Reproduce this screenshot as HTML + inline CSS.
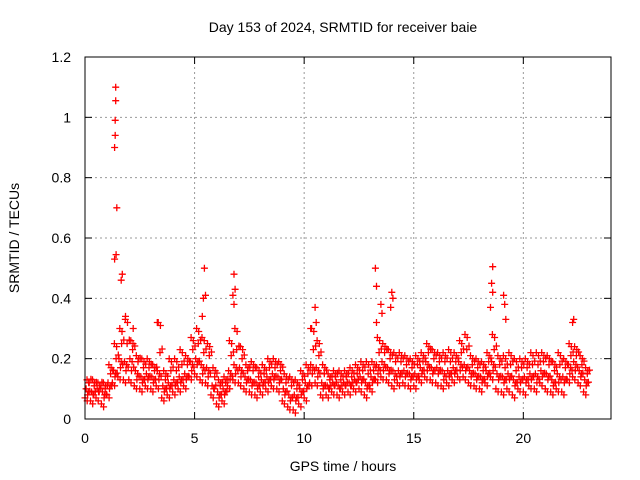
<!DOCTYPE html>
<html><head><meta charset="utf-8"><style>
body{margin:0;background:#fff}
svg{display:block;font-family:"Liberation Sans",sans-serif}
</style></head><body>
<svg id="chart" width="640" height="480">
<rect width="640" height="480" fill="#fff"/>
<text x="343" y="32" text-anchor="middle" font-size="14">Day 153 of 2024, SRMTID for receiver baie</text>
<text x="343" y="471" text-anchor="middle" font-size="14">GPS time / hours</text>
<text transform="translate(19,238) rotate(-90)" text-anchor="middle" font-size="14">SRMTID / TECUs</text>
<g id="grid"></g><g id="ticks"></g><g id="pts"></g>
<rect x="85" y="57" width="526" height="362" fill="none" stroke="#000"/>
</svg>
<script>
const xTicks=[0,5,10,15,20];
const yTicks=[0,0.2,0.4,0.6,0.8,1,1.2];
const yTickLabels=["0","0.2","0.4","0.6","0.8","1","1.2"];
const binStart=0, binStep=0.25;
const lowVals=[.07,.06,.07,.05,.08,.12,.14,.13,.13,.11,.10,.11,.10,.11,.07,.08,.09,.10,.11,.14,.15,.13,.12,.08,.05,.06,.11,.13,.12,.10,.09,.08,.09,.10,.11,.10,.06,.04,.03,.05,.07,.12,.12,.08,.08,.09,.08,.09,.09,.10,.10,.08,.10,.13,.14,.13,.11,.12,.12,.11,.11,.13,.14,.13,.12,.11,.12,.13,.14,.14,.12,.11,.10,.12,.14,.10,.09,.10,.08,.10,.09,.11,.10,.12,.10,.09,.10,.09,.13,.14,.12,.09];
const q1Vals=[.08,.08,.09,.07,.10,.14,.17,.16,.16,.13,.12,.13,.12,.13,.09,.10,.11,.12,.13,.16,.18,.15,.14,.10,.07,.08,.13,.15,.14,.12,.11,.10,.11,.12,.13,.12,.08,.06,.06,.08,.10,.15,.14,.10,.10,.11,.10,.11,.11,.12,.12,.10,.12,.15,.16,.15,.13,.14,.14,.13,.13,.15,.16,.15,.15,.13,.14,.15,.16,.16,.14,.13,.12,.14,.16,.13,.12,.13,.11,.12,.12,.13,.12,.14,.13,.11,.12,.12,.15,.16,.14,.11];
const midVals=[.10,.09,.10,.09,.12,.16,.20,.19,.20,.16,.14,.15,.14,.16,.11,.12,.13,.14,.15,.19,.20,.18,.17,.11,.09,.10,.16,.18,.17,.14,.13,.12,.13,.14,.15,.14,.10,.08,.08,.10,.12,.18,.17,.12,.11,.12,.11,.12,.12,.13,.14,.12,.14,.18,.19,.17,.16,.16,.16,.15,.15,.17,.19,.17,.17,.16,.16,.17,.19,.18,.16,.15,.14,.16,.19,.15,.14,.15,.13,.14,.14,.15,.15,.16,.15,.13,.15,.14,.18,.19,.16,.13];
const q3Vals=[.12,.11,.11,.10,.15,.20,.25,.25,.23,.19,.17,.17,.16,.22,.13,.16,.16,.18,.18,.23,.25,.22,.21,.14,.11,.12,.21,.23,.20,.16,.16,.14,.15,.17,.17,.16,.12,.11,.10,.13,.15,.23,.21,.15,.13,.14,.13,.14,.14,.15,.16,.15,.16,.22,.22,.20,.19,.19,.18,.17,.18,.19,.22,.20,.19,.19,.19,.19,.22,.23,.18,.17,.16,.19,.23,.18,.17,.18,.16,.17,.17,.18,.18,.19,.18,.16,.18,.17,.21,.21,.18,.15];
const highVals=[.13,.13,.12,.12,.18,.25,.30,.33,.26,.21,.20,.20,.18,.32,.16,.20,.20,.23,.21,.27,.30,.27,.25,.17,.13,.14,.26,.30,.24,.18,.19,.17,.18,.20,.20,.19,.15,.14,.13,.16,.18,.30,.26,.18,.15,.16,.16,.16,.17,.18,.19,.19,.19,.27,.25,.23,.22,.22,.21,.20,.21,.22,.25,.23,.22,.22,.23,.22,.26,.28,.21,.20,.19,.22,.28,.21,.21,.22,.20,.20,.20,.22,.22,.22,.21,.19,.22,.20,.25,.24,.21,.17];
const spikeTimes=[1.4,1.4,1.38,1.38,1.35,1.45,1.35,1.42,1.7,1.65,5.45,5.5,5.4,5.35,6.8,6.85,6.75,6.8,10.5,10.55,10.3,13.25,13.3,13.5,13.55,13.3,14.0,14.05,13.95,18.6,18.55,18.6,18.5,19.1,19.15,19.2,22.3,22.25,1.85,2.2,3.3];
const spikeVals=[1.10,1.055,0.99,0.94,0.90,0.70,0.53,0.545,0.48,0.46,0.50,0.41,0.40,0.34,0.48,0.43,0.41,0.38,0.37,0.32,0.30,0.50,0.44,0.38,0.35,0.32,0.42,0.40,0.37,0.505,0.45,0.42,0.37,0.41,0.38,0.33,0.33,0.32,0.34,0.30,0.32];
const NS="http://www.w3.org/2000/svg";
const X=t=>85+t*(526/24), Y=v=>419-v*(362/1.2);
const grid=document.getElementById('grid'), ticks=document.getElementById('ticks'), pts=document.getElementById('pts');
function mk(tag,attrs,parent){const e=document.createElementNS(NS,tag);for(const k in attrs)e.setAttribute(k,attrs[k]);parent.appendChild(e);return e;}
xTicks.forEach(t=>{
 const x=X(t);
 if(t>0){const g=mk('line',{x1:x,x2:x,y1:57,y2:419,stroke:'#999','stroke-dasharray':'2,3'},grid);
 
 }
 mk('line',{x1:x,x2:x,y1:419,y2:412,stroke:'#000'},ticks);
 mk('line',{x1:x,x2:x,y1:57,y2:64,stroke:'#000'},ticks);
 const l=mk('text',{x:x,y:443,'text-anchor':'middle','font-size':14},ticks);l.textContent=t;
 
 
});
yTicks.forEach((v,i)=>{
 const y=Y(v);
 if(v>0&&v<1.2){const g=mk('line',{x1:85,x2:611,y1:y,y2:y,stroke:'#999','stroke-dasharray':'2,3'},grid);
 
 }
 mk('line',{x1:85,x2:92,y1:y,y2:y,stroke:'#000'},ticks);
 mk('line',{x1:611,x2:604,y1:y,y2:y,stroke:'#000'},ticks);
 const l=mk('text',{x:71,y:y+5,'text-anchor':'end','font-size':14},ticks);l.textContent=yTickLabels[i];
 
 
});
let d='';
function plus(t,v){const x=X(t),y=Y(v);d+=`M${(x-3.5).toFixed(1)} ${y.toFixed(1)}h7M${x.toFixed(1)} ${(y-3.5).toFixed(1)}v7`;}
const series=[lowVals,q1Vals,midVals,q3Vals,highVals];
const offs=[0.0,0.12,0.05,0.17,0.09];
series.forEach((arr,s)=>arr.forEach((v,i)=>{
 plus(binStart+i*binStep+offs[s],v);
 plus(binStart+i*binStep+offs[s]+0.1,v+(s%2?0.012:-0.01));
}));
spikeVals.forEach((v,i)=>plus(spikeTimes[i],v));
const p=mk('path',{d:d,stroke:'#f00','stroke-width':1.3,fill:'none'},pts);


</script>
</body></html>
